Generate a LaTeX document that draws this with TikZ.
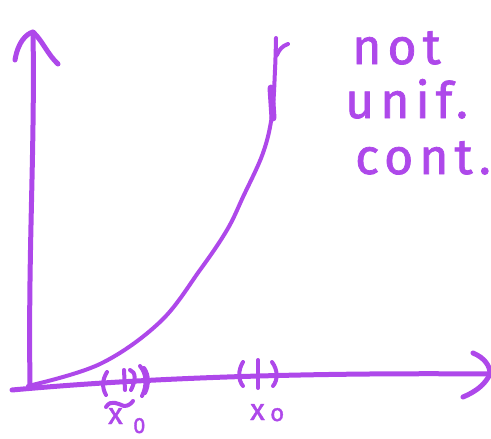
\documentclass[tikz,border=0pt]{standalone}
\usepackage{fontspec}
\setmainfont{Fira Sans}
\definecolor{pen}{HTML}{AE48EA}
\begin{document}
\begin{tikzpicture}[x=1pt,y=-1pt,
  ink/.style={draw=pen,line width=5pt,line cap=round,line join=round},
  hand/.style={text=pen,font=\fontsize{50}{56}\selectfont\addfontfeature{LetterSpace=12,FakeBold=1.5},inner sep=0pt,anchor=base west},
  lab/.style={text=pen,inner sep=0pt,anchor=base west}]
\useasboundingbox (0,0) rectangle (491,439);
% y axis
\coordinate (ybot) at (30,384);
\coordinate (ytop) at (33,32);
\draw[ink] (ybot) .. controls (28,250) and (35,150) .. (ytop);
\draw[ink] (15,60) .. controls (18,42) and (26,34) .. (ytop) .. controls (42,40) and (48,55) .. (58,64);
% x axis
\coordinate (xl) at (12,390);
\coordinate (xr) at (490,374);
\draw[ink] (xl) .. controls (100,382) and (250,372) .. (xr);
\draw[ink] (473,353) .. controls (485,358) and (490,366) .. (xr) .. controls (485,385) and (475,392) .. (463,397);
% curve
\coordinate (c0) at (28,386);
\coordinate (c1) at (276,38);
\draw[ink,line width=4pt] plot[smooth,tension=0.6] coordinates {(c0) (100,364) (160,322) (200,270) (227,230) (243,197) (263,153) (272,115) (275,70) (c1)};
\draw[ink,line width=4pt] (277,55) .. controls (279,50) and (282,46) .. (288,44);
\draw[ink,line width=7pt] (271,88) -- (273,118);
% interval near x~ 0
\draw[ink,line width=4pt] (107,372) .. controls (102,380) and (102,388) .. (106,395);
\draw[ink,line width=4pt] (124,370) -- (125,390);
\draw[ink,line width=4pt] (130,370) .. controls (136,372) and (136,380) .. (131,390);
\draw[ink,line width=4pt] (140,366) .. controls (147,374) and (147,386) .. (142,396);
\draw[ink,line width=4pt] (144,368) .. controls (149,375) and (149,385) .. (145,393);
% interval near x0
\draw[ink,line width=4pt] (243,362) .. controls (238,370) and (238,380) .. (243,386);
\draw[ink,line width=4pt] (272,362) .. controls (278,370) and (278,380) .. (273,386);
\draw[ink,line width=4pt] (258,360) -- (258,388);
% labels
\node[lab,font=\fontsize{30}{34}\selectfont\addfontfeature{FakeBold=1.5}] (xt) at (108,424) {x};
\draw[ink,line width=4pt] (106,407) .. controls (111,399) and (118,404) .. (124,406) .. controls (128,406) and (131,404) .. (133,401);
\node[lab,font=\fontsize{22}{26}\selectfont\addfontfeature{FakeBold=1.5}] (xtsub) at (133,433) {0};
\node[lab,font=\fontsize{30}{34}\selectfont\addfontfeature{FakeBold=1.5}] (x0) at (250,420) {x};
\node[lab,font=\fontsize{24}{28}\selectfont\addfontfeature{FakeBold=1.5}] (x0sub) at (270,421) {o};
% text
\node[hand] (t1) at (352,64) {not};
\node[hand] (t2) at (345,118) {unif.};
\node[hand] (t3) at (355,174) {cont.};
\end{tikzpicture}
\end{document}
